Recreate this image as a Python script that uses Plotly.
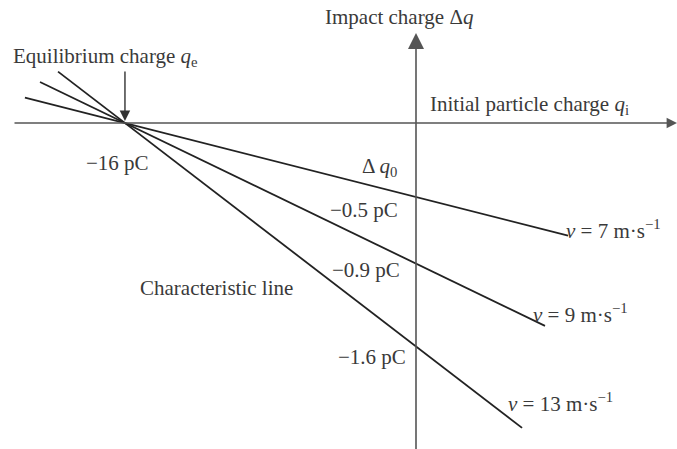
import plotly.graph_objects as go

# ---- data (pC) ----
q_eq = -16.0                       # equilibrium charge
speeds = ["7", "9", "13"]          # m/s
dq0 = [-0.5, -0.95, -1.51]         # intercept positions on the Δq axis (as drawn)
dq0_labels = ["−0.5 pC", "−0.9 pC", "−1.6 pC"]
x_start = [-21.5, -20.67, -19.68]  # left end of each line (initial charge)
x_end = [8.36, 7.09, 5.83]         # right end of each line

W, H = 677, 449
# pixel <-> data mapping (layout only)
X0, SX = 416.0, 18.19
Y0, SY = 123.0, 148.0
def X(px): return (px - X0) / SX
def Y(py): return (Y0 - py) / SY

FONT = "Liberation Serif"
TXT = "#3a3a3a"
LINE = "#222222"
AX = "#555555"
FS = 21

fig = go.Figure()
for q0, xs, xe in zip(dq0, x_start, x_end):
    s = q0 / (0 - q_eq)
    xs_ = [xs, xe]
    ys_ = [s * (x - q_eq) for x in xs_]
    fig.add_trace(go.Scatter(x=xs_, y=ys_, mode="lines",
                             line=dict(color=LINE, width=1.8),
                             hoverinfo="skip", showlegend=False))

ann = []
# axes with arrowheads
ann.append(dict(x=X(677), y=0, ax=X(13), ay=0, xref="x", yref="y", axref="x", ayref="y",
                showarrow=True, arrowhead=2, arrowsize=1.3, arrowwidth=1.6, arrowcolor=AX, text=""))
ann.append(dict(x=0, y=Y(33), ax=0, ay=Y(460), xref="x", yref="y", axref="x", ayref="y",
                showarrow=True, arrowhead=2, arrowsize=2.0, arrowwidth=1.6, arrowcolor=AX, text=""))
# equilibrium arrow
ann.append(dict(x=q_eq, y=Y(121), ax=q_eq, ay=Y(70), xref="x", yref="y", axref="x", ayref="y",
                showarrow=True, arrowhead=2, arrowsize=1.5, arrowwidth=1.4, arrowcolor="#333333", text=""))

def txt(text, x, y, xanchor="left", yanchor="middle", size=FS):
    ann.append(dict(text=text, x=x, y=y, xref="x", yref="y", showarrow=False,
                    xanchor=xanchor, yanchor=yanchor,
                    font=dict(family=FONT, size=size, color=TXT)))

txt("Impact charge Δ<i>q</i>", X(399), Y(17), "center")
txt("Initial particle charge <i>q</i><sub>i</sub>", X(428), Y(105))
txt("Equilibrium charge <i>q</i><sub>e</sub>", X(11), Y(57))
txt("−16 pC", X(117), Y(163), "center")
txt("Δ <i>q</i><sub>0</sub>", X(399), Y(167), "right")
label_y = [210, 270, 357]
label_r = [400, 402, 408]
for lab, px, py in zip(dq0_labels, label_r, label_y):
    txt(lab, X(px), Y(py), "right")
txt("Characteristic line", X(138), Y(288))
v_pos = [(564, 229), (531, 313), (506, 402)]
for sp, (px, py) in zip(speeds, v_pos):
    txt("<i>v</i> = %s m·s<sup>−1</sup>" % sp, X(px), Y(py))

fig.update_layout(
    width=W, height=H, margin=dict(l=0, r=0, t=0, b=0),
    paper_bgcolor="white", plot_bgcolor="white",
    xaxis=dict(range=[X(0), X(W)], visible=False, fixedrange=True),
    yaxis=dict(range=[Y(H), Y(0)], visible=False, fixedrange=True),
    annotations=ann, showlegend=False,
)
fig.write_html("out.html")
